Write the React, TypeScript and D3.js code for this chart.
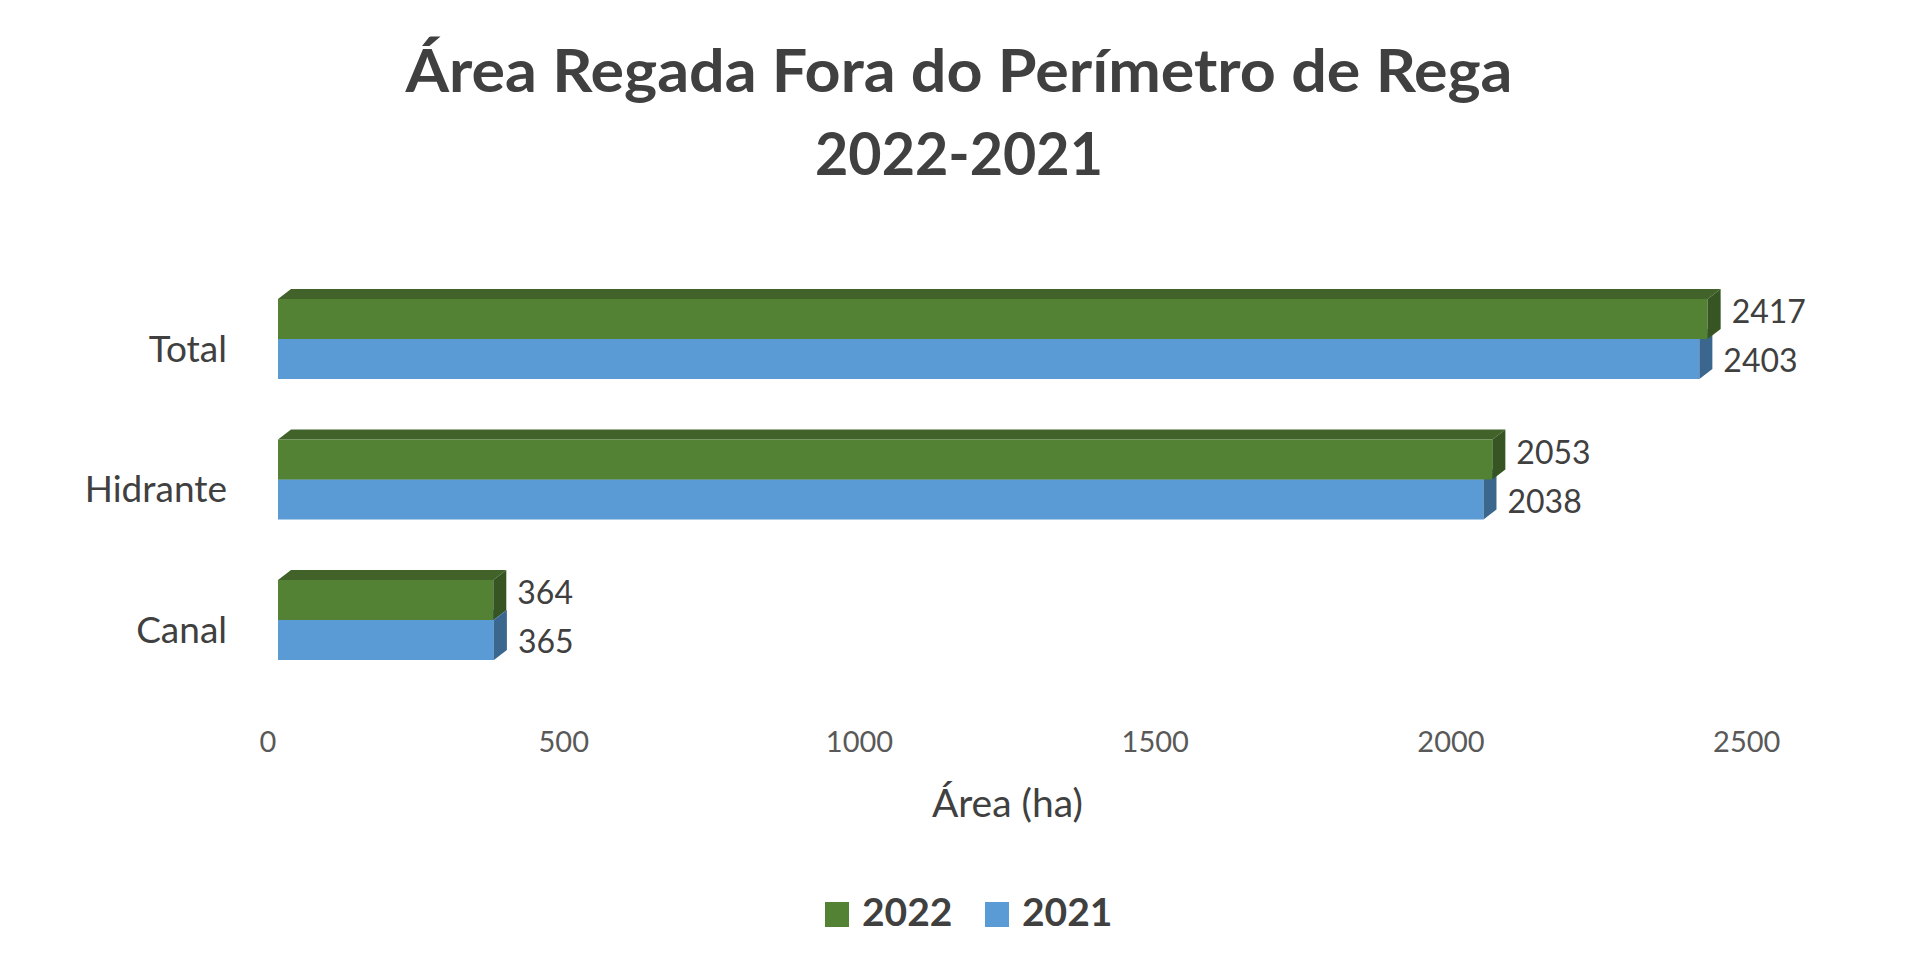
import * as d3 from "d3";

const categories = ["Total", "Hidrante", "Canal"];
const series = ["2022", "2021"];
const values2022 = [2417, 2053, 364];
const values2021 = [2403, 2038, 365];
const xTicks = [0, 500, 1000, 1500, 2000, 2500];

const WIDTH = 1920;
const HEIGHT = 976;
const DX = 13; // 3d depth, horizontal
const DY = 10; // 3d depth, vertical
const FONT = "Lato, 'Open Sans', sans-serif";
const TEXT = "#404040";

const colors: Record<string, { front: string; top: string; side: string }> = {
  "2022": { front: "#548235", top: "#41632a", side: "#375523" },
  "2021": { front: "#5b9bd5", top: "#4a80b0", side: "#3b678f" },
};

const App = () => {
  const x = d3.scaleLinear().domain([0, 2500]).range([278, 278 + 2500 * 0.5915]);
  const y = d3.scaleBand<string>().domain(categories).range([268.75, 690.25]).padding(0);

  const rows = categories.map((c, i) => ({
    cat: c,
    vals: { "2022": values2022[i], "2021": values2021[i] } as Record<string, number>,
  }));

  const bar = (cat: string, s: string, v: number, center: number) => {
    const inner = d3.scaleBand<string>().domain(series).range([center - 40, center + 40]);
    const y0 = inner(s)!;
    const h = inner.bandwidth();
    const x0 = x(0);
    const x1 = x(v);
    const col = colors[s];
    const top = `M${x0},${y0}L${x0 + DX},${y0 - DY}L${x1 + DX},${y0 - DY}L${x1},${y0}Z`;
    const side = `M${x1},${y0}L${x1 + DX},${y0 - DY}L${x1 + DX},${y0 + h - DY}L${x1},${y0 + h}Z`;
    return (
      <g key={cat + s}>
        <path d={top} fill={col.top} />
        <rect x={x0} y={y0} width={x1 - x0} height={h} fill={col.front} />
        <path d={side} fill={col.side} />
      </g>
    );
  };

  return (
    <div style={{ position: "absolute", left: 0, top: 0 }}>
      <svg width={WIDTH} height={HEIGHT} style={{ display: "block", background: "#fff" }}>
        <g fontFamily={FONT} fill={TEXT}>
          <text x={959} y={92} textAnchor="middle" fontSize={60} fontWeight={700} textLength={1107} lengthAdjust="spacingAndGlyphs">
            Área Regada Fora do Perímetro de Rega
          </text>
          <text x={959} y={175} textAnchor="middle" fontSize={60} fontWeight={700} textLength={288} lengthAdjust="spacingAndGlyphs">
            2022-2021
          </text>
        </g>

        {rows.map((r) => {
          const center = y(r.cat)! + y.bandwidth() / 2;
          return (
            <g key={r.cat}>
              {bar(r.cat, "2021", r.vals["2021"], center)}
              {bar(r.cat, "2022", r.vals["2022"], center)}
              <text x={x(r.vals["2022"]) + DX + 11} y={center - 16} fontFamily={FONT} fontSize={32} fill={TEXT}>
                {r.vals["2022"]}
              </text>
              <text x={x(r.vals["2021"]) + DX + 11} y={center + 33} fontFamily={FONT} fontSize={32} fill={TEXT}>
                {r.vals["2021"]}
              </text>
              <text x={227} y={center + 22.5} textAnchor="end" fontFamily={FONT} fontSize={37} fill={TEXT}>
                {r.cat}
              </text>
            </g>
          );
        })}

        {xTicks.map((t) => (
          <text key={t} x={x(t) - 10} y={752} textAnchor="middle" fontFamily={FONT} fontSize={29} fill="#595959">
            {t}
          </text>
        ))}
        <text x={(x(0) + x(2500)) / 2 - 10} y={817} textAnchor="middle" fontFamily={FONT} fontSize={39} fill={TEXT}>
          Área (ha)
        </text>

        <g fontFamily={FONT} fontSize={39} fontWeight={700} fill={TEXT}>
          <rect x={825} y={902} width={24} height={25} fill={colors["2022"].front} />
          <text x={862} y={926}>2022</text>
          <rect x={985} y={902} width={24} height={25} fill={colors["2021"].front} />
          <text x={1022} y={926}>2021</text>
        </g>
      </svg>
    </div>
  );
};

export default App;
